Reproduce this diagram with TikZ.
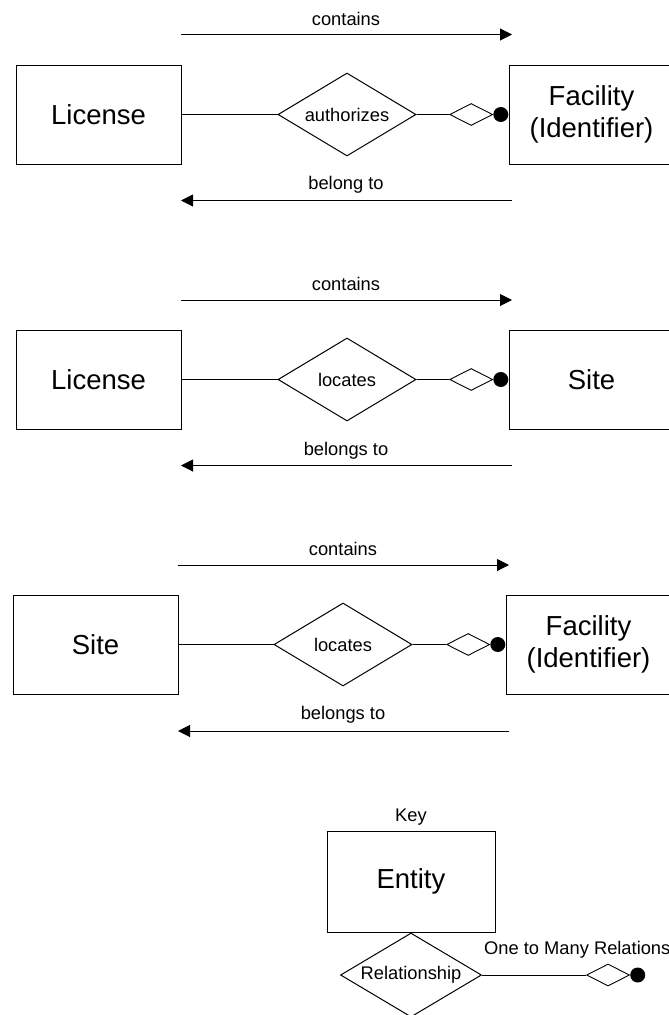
\documentclass[tikz,border=0pt]{standalone}
\usepackage{fontspec}
\setmainfont{Liberation Sans}
\usetikzlibrary{shapes.geometric,arrows.meta}
\begin{document}
\begin{tikzpicture}[x=1pt,y=-1pt,
  entity/.style={draw, line width=1pt, minimum width=165pt, minimum height=99pt,
    inner sep=0pt, align=center, font=\fontsize{27.5}{31.5}\selectfont},
  relation/.style={draw, diamond, aspect=1.66, line width=1pt, minimum width=138pt,
    minimum height=83pt, inner sep=0pt, font=\fontsize{18.3}{22}\selectfont},
  manyend/.style={draw, diamond, aspect=2, line width=0.9pt, minimum width=43pt,
    minimum height=22pt, inner sep=0pt},
  enddot/.style={circle, fill=black, minimum size=15pt, inner sep=0pt},
  lbl/.style={inner sep=0pt, font=\fontsize{18.3}{22}\selectfont},
  flow/.style={-{Triangle[length=12pt,width=12pt]}, line width=1pt},
  link/.style={line width=1pt}
]
\useasboundingbox (0,0) rectangle (669,1015);

% ---------- License -- authorizes -- Facility ----------
\node[entity] (lic1) at (98.5,114.5) {License};
\node[entity] (fac1) at (591.5,114.5) {Facility\\(Identifier)};
\node[relation] (auth) at (347,114.5) {authorizes};
\node[enddot, anchor=east] (d1) at (fac1.west) {};
\node[manyend, anchor=east] (m1) at (d1.west) {};
\draw[link] (lic1.east) -- (auth.west);
\draw[link] (auth.east) -- (m1.west);
\coordinate (a1l) at (181,34.5);  \coordinate (a1r) at (512,34.5);
\coordinate (b1l) at (181,200.5); \coordinate (b1r) at (512,200.5);
\draw[flow] (a1l) -- (a1r);
\draw[flow] (b1r) -- (b1l);
\node[lbl] (t1a) at (346,18.5) {contains};
\node[lbl] (t1b) at (346,185) {belong to};

% ---------- License -- locates -- Site ----------
\node[entity] (lic2) at (98.5,379.5) {License};
\node[entity] (site2) at (591.5,379.5) {Site};
\node[relation] (loc2) at (347,379.5) {locates};
\node[enddot, anchor=east] (d2) at (site2.west) {};
\node[manyend, anchor=east] (m2) at (d2.west) {};
\draw[link] (lic2.east) -- (loc2.west);
\draw[link] (loc2.east) -- (m2.west);
\coordinate (a2l) at (181,300);   \coordinate (a2r) at (512,300);
\coordinate (b2l) at (181,465.5); \coordinate (b2r) at (512,465.5);
\draw[flow] (a2l) -- (a2r);
\draw[flow] (b2r) -- (b2l);
\node[lbl] (t2a) at (346,284) {contains};
\node[lbl] (t2b) at (346,450.5) {belongs to};

% ---------- Site -- locates -- Facility ----------
\node[entity] (site3) at (95.5,644.5) {Site};
\node[entity] (fac3) at (588.5,644.5) {Facility\\(Identifier)};
\node[relation] (loc3) at (343,644.5) {locates};
\node[enddot, anchor=east] (d3) at (fac3.west) {};
\node[manyend, anchor=east] (m3) at (d3.west) {};
\draw[link] (site3.east) -- (loc3.west);
\draw[link] (loc3.east) -- (m3.west);
\coordinate (a3l) at (178,565);   \coordinate (a3r) at (509,565);
\coordinate (b3l) at (178,731);   \coordinate (b3r) at (509,731);
\draw[flow] (a3l) -- (a3r);
\draw[flow] (b3r) -- (b3l);
\node[lbl] (t3a) at (343,548.5) {contains};
\node[lbl] (t3b) at (343,715) {belongs to};

% ---------- Key ----------
\node[lbl] (keyt) at (411,817) {Key};
\node[entity, minimum width=168pt, minimum height=101pt] (ent) at (411,881.5) {Entity};
\node[relation, minimum width=141pt, minimum height=84pt, anchor=north] (rel) at (ent.south) {Relationship};
\node[enddot, anchor=west] (dk) at (rel.east -| 630,0) {};
\node[manyend, anchor=east] (mk) at (dk.west) {};
\draw[link] (rel.east) -- (mk.west);
\node[lbl, anchor=west] (onemany) at (484,950) {One to Many Relationship};
\end{tikzpicture}
\end{document}
